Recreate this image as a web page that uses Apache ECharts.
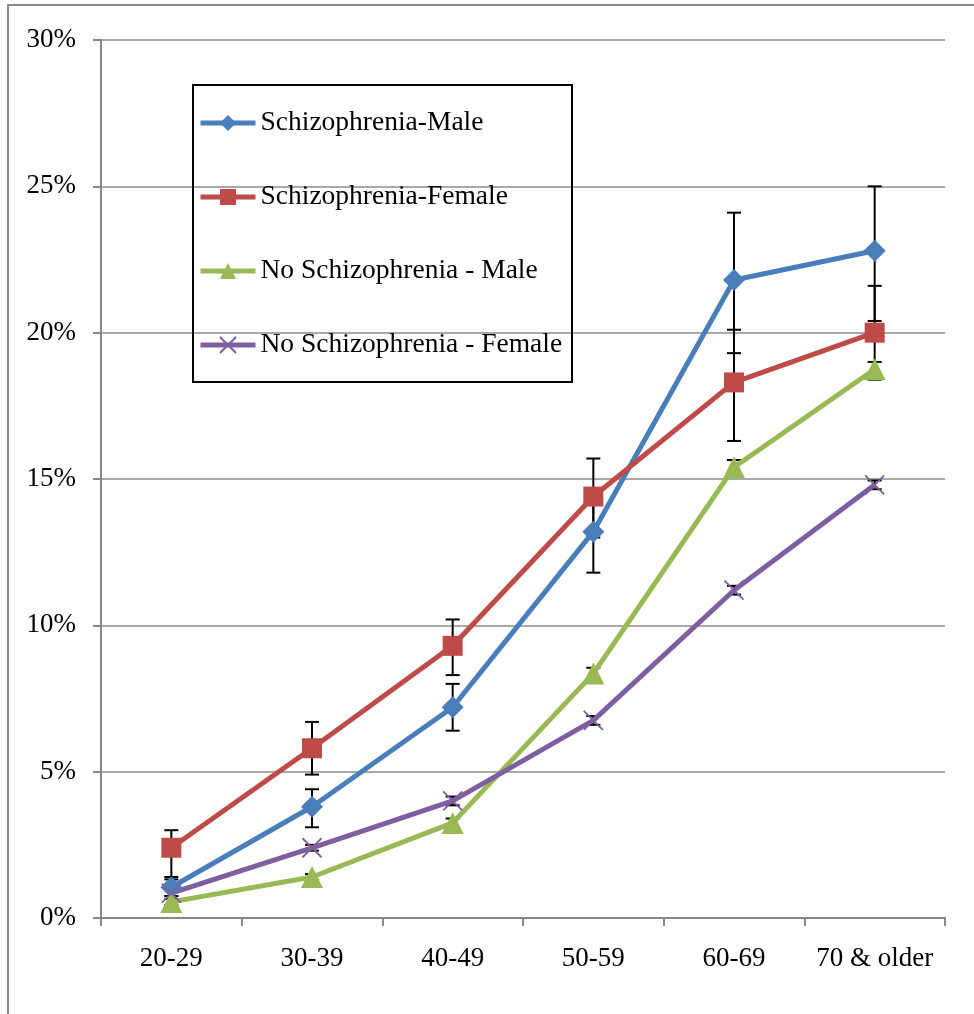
<!DOCTYPE html>
<html>
<head>
<meta charset="utf-8">
<script src="https://cdn.jsdelivr.net/npm/echarts@6/dist/echarts.min.js"></script>
<style>html,body{margin:0;padding:0;background:#fff}#c{width:974px;height:1014px}</style>
</head>
<body>
<div id="c"></div>
<script>
const categories = ['20-29', '30-39', '40-49', '50-59', '60-69', '70 & older'];
const seriesNames = ['Schizophrenia-Male', 'Schizophrenia-Female', 'No Schizophrenia - Male', 'No Schizophrenia - Female'];
const yTicks = [0, 5, 10, 15, 20, 25, 30];

const szMale = [1.05, 3.8, 7.2, 13.2, 21.8, 22.8];
const szMaleLow = [0.75, 3.1, 6.4, 11.8, 19.3, 20.4];
const szMaleHigh = [1.32, 4.4, 8.0, 14.6, 24.1, 25.0];

const szFemale = [2.4, 5.8, 9.3, 14.4, 18.3, 20.0];
const szFemaleLow = [1.4, 4.9, 8.3, 13.0, 16.3, 18.4];
const szFemaleHigh = [3.0, 6.7, 10.2, 15.7, 20.1, 21.6];

const noMale = [0.55, 1.4, 3.25, 8.35, 15.4, 18.75];
const noMaleLow = [0.45, 1.3, 3.1, 8.15, 15.15, 18.4];
const noMaleHigh = [0.65, 1.5, 3.4, 8.55, 15.65, 19.0];

const noFemale = [0.85, 2.4, 4.0, 6.75, 11.2, 14.8];
const noFemaleLow = [0.75, 2.3, 3.85, 6.6, 11.05, 14.65];
const noFemaleHigh = [0.95, 2.5, 4.15, 6.9, 11.35, 14.95];

const colors = ['#4A7EBB', '#BE4B48', '#98B954', '#7D5FA0'];
const FONT = '"Liberation Serif", "Times New Roman", serif';

function errData(low, high) {
  return categories.map((c, i) => [i, low[i], high[i]]);
}
function errSeries(name, low, high) {
  return {
    type: 'custom',
    name: name + ' err',
    z: 1,
    silent: true,
    data: errData(low, high),
    renderItem: function (params, api) {
      const x = api.value(0);
      const lo = api.coord([x, api.value(1)]);
      const hi = api.coord([x, api.value(2)]);
      const hw = 7;
      const st = { stroke: '#000', lineWidth: 2 };
      return {
        type: 'group',
        children: [
          { type: 'line', shape: { x1: lo[0], y1: lo[1], x2: hi[0], y2: hi[1] }, style: st },
          { type: 'line', shape: { x1: lo[0] - hw, y1: lo[1], x2: lo[0] + hw, y2: lo[1] }, style: st },
          { type: 'line', shape: { x1: hi[0] - hw, y1: hi[1], x2: hi[0] + hw, y2: hi[1] }, style: st }
        ]
      };
    }
  };
}
function lineSeries(idx, data, symbol, size, extra) {
  return Object.assign({
    type: 'line',
    name: seriesNames[idx],
    data: data,
    z: 3,
    symbol: symbol,
    symbolSize: size,
    showAllSymbol: true,
    lineStyle: { color: colors[idx], width: 5 },
    itemStyle: { color: colors[idx] },
    emphasis: { disabled: true }
  }, extra || {});
}

const chart = echarts.init(document.getElementById('c'), null, { renderer: 'canvas' });
chart.setOption({
  animation: false,
  backgroundColor: '#fff',
  color: colors,
  grid: { left: 101, right: 29, top: 40, bottom: 96, containLabel: false },
  graphic: [
    { type: 'rect', shape: { x: 8, y: 5, width: 990, height: 1040 }, style: { fill: 'none', stroke: '#8a8a8a', lineWidth: 2 }, z: 0 },
    { type: 'rect', shape: { x: 193, y: 85, width: 379, height: 297 }, style: { fill: 'none', stroke: '#000', lineWidth: 2 }, z: 10 }
  ],
  legend: {
    orient: 'vertical',
    left: 198,
    top: 108,
    padding: 0,
    itemWidth: 55,
    itemHeight: 20,
    itemGap: 44,
    data: seriesNames,
    lineStyle: { width: 5 },
    textStyle: { fontFamily: FONT, fontSize: 27.5, color: '#000', lineHeight: 30 }
  },
  xAxis: {
    type: 'category',
    data: categories,
    boundaryGap: true,
    axisLine: { lineStyle: { color: '#878787', width: 2 } },
    axisTick: { show: true, length: 8, lineStyle: { color: '#878787', width: 2 } },
    axisLabel: { fontFamily: FONT, fontSize: 27, color: '#000', margin: 27, interval: 0, hideOverlap: false },
    splitLine: { show: false }
  },
  yAxis: {
    type: 'value',
    min: 0,
    max: 30,
    interval: 5,
    axisLine: { show: true, lineStyle: { color: '#878787', width: 2 } },
    axisTick: { show: true, length: 8, lineStyle: { color: '#878787', width: 2 } },
    axisLabel: { fontFamily: FONT, fontSize: 27, color: '#000', margin: 25, formatter: v => yTicks.includes(v) ? v + '%' : '' },
    splitLine: { show: true, lineStyle: { color: '#8c8c8c', width: 1.5 } }
  },
  series: [
    errSeries(seriesNames[0], szMaleLow, szMaleHigh),
    errSeries(seriesNames[1], szFemaleLow, szFemaleHigh),
    errSeries(seriesNames[2], noMaleLow, noMaleHigh),
    errSeries(seriesNames[3], noFemaleLow, noFemaleHigh),
    lineSeries(0, szMale, 'diamond', 22),
    lineSeries(1, szFemale, 'rect', 20),
    lineSeries(2, noMale, 'triangle', 22),
    lineSeries(3, noFemale, 'path://M0,0 L10,10 M10,0 L0,10', 19, {
      itemStyle: { color: colors[3], borderColor: colors[3], borderWidth: 1.8 }
    })
  ]
});
</script>
</body>
</html>
